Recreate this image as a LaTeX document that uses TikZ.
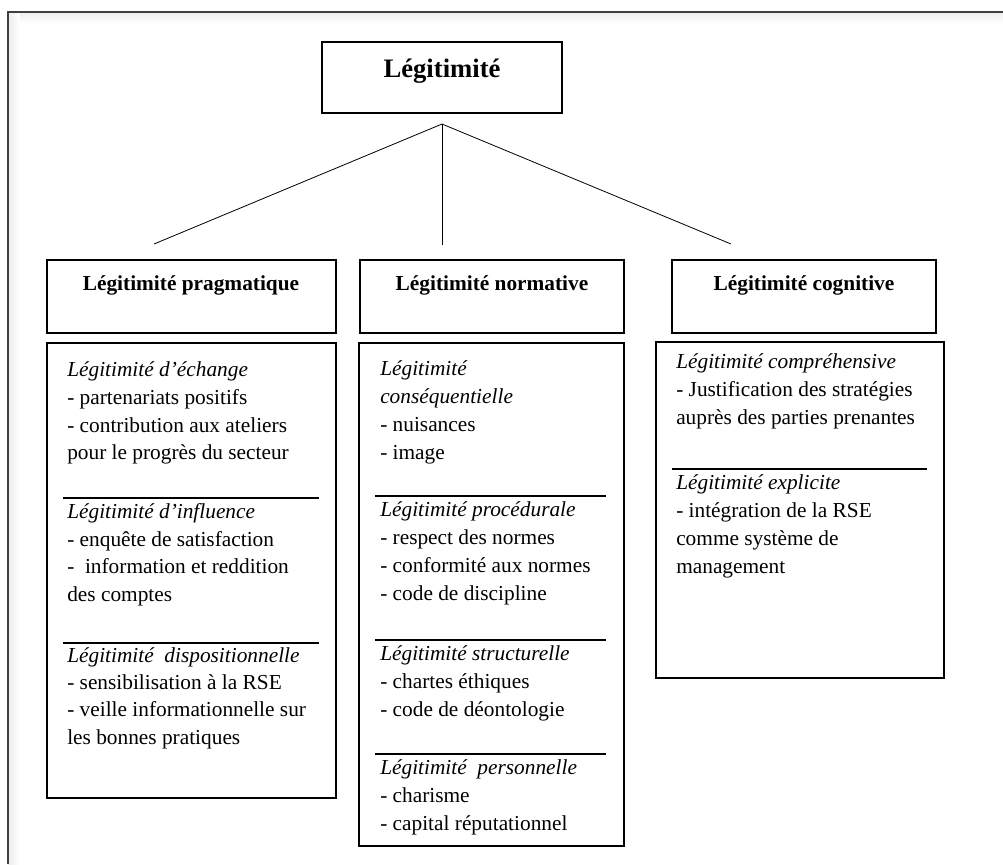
\documentclass[tikz,border=0pt]{standalone}
\usepackage{fontspec}
\setmainfont{Liberation Serif}
\usetikzlibrary{fit}
\begin{document}
\begin{tikzpicture}[x=0.75pt,y=-0.75pt,
  box/.style={draw=black, line width=1.3pt, inner sep=0pt},
  sepline/.style={draw=black, line width=1.3pt},
  conn/.style={draw=black, line width=0.6pt},
  body/.style={anchor=base west, inner sep=0pt, font=\fontsize{16}{19}\selectfont},
  head/.style={anchor=base, inner sep=0pt, font=\fontsize{16}{19}\selectfont\bfseries},
  roothead/.style={anchor=base, inner sep=0pt, font=\fontsize{20}{24}\selectfont\bfseries},
]
\useasboundingbox (0,0) rectangle (1003,864);
\fill[white] (0,0) rectangle (1003,864);
% outer frame with faint shadow
\shade[top color=black!7, bottom color=white] (8,12) rectangle (1003,24);
\shade[left color=black!7, right color=white] (8,12) rectangle (20,864);
\draw[black!75, line width=1.2pt] (1003,12) -- (8,12) -- (8,864);

% root
\node[box, fit={(322,42) (562,113)}] (root) {};
\node[roothead] (rootT) at (442,77) {Légitimité};

% connectors
\coordinate (apex) at (442,124);
\coordinate (e1) at (154,244);
\coordinate (e2) at (442,245);
\coordinate (e3) at (731,244);
\draw[conn] (apex) -- (e1);
\draw[conn] (apex) -- (e2);
\draw[conn] (apex) -- (e3);

% level 2 headers
\node[box, fit={(47,260) (336,333)}] (prag) {};
\node[head] (pragT) at (191,290) {Légitimité pragmatique};
\node[box, fit={(360,260) (624,333)}] (norm) {};
\node[head] (normT) at (492,290) {Légitimité normative};
\node[box, fit={(672,260) (936,333)}] (cogn) {};
\node[head] (cognT) at (804,290) {Légitimité cognitive};

% content boxes
\node[box, fit={(47,343) (336,798)}] (pragC) {};
\node[box, fit={(359,343) (624,846)}] (normC) {};
\node[box, fit={(656,342) (944,678)}] (cognC) {};

% separators
\draw[sepline] (63,498) -- (319,498);
\draw[sepline] (63,643) -- (319,643);
\draw[sepline] (375,496) -- (606,496);
\draw[sepline] (375,640) -- (606,640);
\draw[sepline] (375,754) -- (606,754);
\draw[sepline] (672,469) -- (927,469);

% pragmatique texts
\foreach \yy/\tt [count=\k] in {
  376/\textit{Légitimité d’échange},
  404/- partenariats positifs,
  432/- contribution aux ateliers,
  459/pour le progrès du secteur,
  518/\textit{Légitimité d’influence},
  546/- enquête de satisfaction,
  573/-\ \ information et reddition,
  601/des comptes,
  662/\textit{Légitimité\ \ dispositionnelle},
  689/- sensibilisation à la RSE,
  716/- veille informationnelle sur,
  744/les bonnes pratiques}
  \node[body] (pt\k) at (67,\yy) {\tt};

% normative texts
\foreach \yy/\tt [count=\k] in {
  375/\textit{Légitimité},
  403/\textit{conséquentielle},
  431/- nuisances,
  459/- image,
  516/\textit{Légitimité procédurale},
  544/- respect des normes,
  572/- conformité aux normes,
  600/- code de discipline,
  660/\textit{Légitimité structurelle},
  688/- chartes éthiques,
  716/- code de déontologie,
  774/\textit{Légitimité\ \ personnelle},
  802/- charisme,
  830/- capital réputationnel}
  \node[body] (nt\k) at (380,\yy) {\tt};

% cognitive texts
\foreach \yy/\tt [count=\k] in {
  368/\textit{Légitimité compréhensive},
  396/- Justification des stratégies,
  424/auprès des parties prenantes,
  489/\textit{Légitimité explicite},
  517/- intégration de la RSE,
  545/comme système de,
  573/management}
  \node[body] (ct\k) at (676,\yy) {\tt};
\end{tikzpicture}
\end{document}
